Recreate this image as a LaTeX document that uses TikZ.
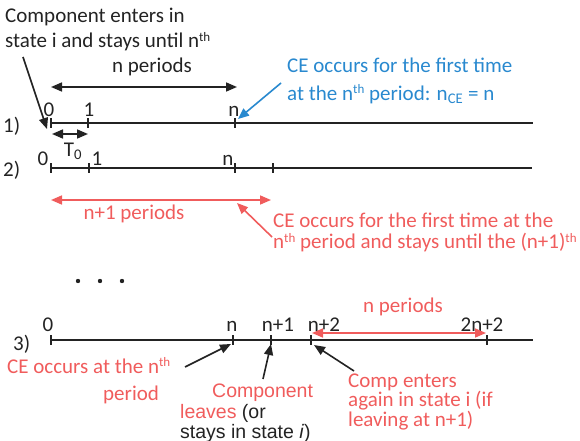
\documentclass[tikz,border=0pt]{standalone}
\usepackage{fontspec}
\setmainfont{Carlito}
\newfontfamily\arialfont{Liberation Sans}
\usetikzlibrary{arrows.meta}
\definecolor{ink}{RGB}{35,35,35}
\definecolor{cred}{RGB}{240,92,92}
\definecolor{cblue}{RGB}{41,137,207}
\newcommand{\myth}{\raisebox{6.5pt}{\fontsize{13}{13}\selectfont th}}
\begin{document}
\begin{tikzpicture}[x=1pt,y=-1pt,
  txt/.style={font=\fontsize{21}{25}\selectfont, inner sep=0pt, text=ink, anchor=base west},
  lbl/.style={font=\fontsize{21}{25}\selectfont, inner sep=0pt, text=ink, anchor=base},
  rtxt/.style={txt, text=cred},
  btxt/.style={txt, text=cblue},
  atxt/.style={txt, font=\arialfont\fontsize{19.5}{21}\selectfont},
  tline/.style={draw=ink, line width=1.8pt},
  tk/.style={draw=ink, line width=1.6pt},
  arr/.style={draw=ink, line width=1.6pt, -{Triangle[length=11pt,width=9pt]}},
  darr/.style={draw=ink, line width=1.6pt, {Triangle[length=11pt,width=9pt]}-{Triangle[length=11pt,width=9pt]}},
  rarr/.style={arr, draw=cred, fill=cred},
  rdarr/.style={darr, draw=cred, fill=cred},
  barr/.style={arr, draw=cblue, fill=cblue}
]
\useasboundingbox (0,0) rectangle (580,441);

% ---------- timeline 1 ----------
\coordinate (s1) at (51,123);
\coordinate (e1) at (533,123);
\coordinate (a0) at (51,123);
\coordinate (a1) at (88,123);
\coordinate (an) at (235,123);
\draw[tline] (s1) -- (e1);
\foreach \c in {a0,a1,an} \draw[tk] ([yshift=5pt]\c) -- ([yshift=-5pt]\c);
\node[txt] (r1) at (3,132) {1)};
\node[lbl] (l10) at (49,117) {0};
\node[lbl] (l11) at (89,117) {1};
\node[lbl] (l1n) at (234,117) {n};

% ---------- timeline 2 ----------
\coordinate (s2) at (51,168);
\coordinate (e2) at (532,168);
\coordinate (b0) at (51,168);
\coordinate (b1) at (89,168);
\coordinate (bn) at (235,168);
\coordinate (bm) at (273,168);
\draw[tline] (s2) -- (e2);
\foreach \c in {b0,b1,bn,bm} \draw[tk] ([yshift=5pt]\c) -- ([yshift=-5pt]\c);
\node[txt] (r2) at (3,176) {2)};
\node[lbl] (l20) at (43,165) {0};
\node[lbl] (l21) at (97,165) {1};
\node[lbl] (l2n) at (228,165) {n};

% ---------- timeline 3 ----------
\coordinate (s3) at (51,340);
\coordinate (e3) at (533,340);
\coordinate (c0) at (51,340);
\coordinate (cn) at (233,340);
\coordinate (cn1) at (271,340);
\coordinate (cn2) at (311,340);
\coordinate (c2n) at (487,340);
\draw[tline] (s3) -- (e3);
\foreach \c in {c0,cn,cn1,cn2,c2n} \draw[tk] ([yshift=5pt]\c) -- ([yshift=-5pt]\c);
\node[txt] (r3) at (13,350) {3)};
\node[lbl] (l30) at (48,331) {0};
\node[lbl] (l3n) at (232,331) {n};
\node[lbl] (l3n1) at (278,331) {n+1};
\node[lbl] (l3n2) at (324,331) {n+2};
\node[lbl] (l32n) at (482,331) {2n+2};

% ---------- top-left text ----------
\node[txt] (ce1) at (5,23) {Component enters in};
\node[txt] (ce2) at (5,48) {state i and stays until n\myth};
\coordinate (ceT) at (23,57);
\coordinate (ceH) at (47,129);
\draw[arr, fill=ink] (ceT) -- (ceH);

% n periods (top)
\coordinate (np1) at (51,87);
\coordinate (np2) at (237,87);
\draw[darr, fill=ink] (np1) -- (np2);
\node[lbl] (npl) at (152,73) {n periods};

% T0
\coordinate (t1) at (52,134);
\coordinate (t2) at (88,134);
\draw[darr, fill=ink] (t1) -- (t2);
\node[lbl] (t0) at (73,156) {T\textsubscript{0}};

% blue text
\node[btxt] (bl1) at (287,73) {CE occurs for the first time};
\node[btxt] (bl2) at (287,100) {at the n\myth{} period: n\textsubscript{CE} = n};
\coordinate (blT) at (281,83);
\coordinate (blH) at (238,119);
\draw[barr] (blT) -- (blH);

% red n+1 periods
\coordinate (rp1) at (51,200);
\coordinate (rp2) at (271,200);
\draw[rdarr] (rp1) -- (rp2);
\node[lbl, text=cred] (rpl) at (134,219) {n+1 periods};

% red text
\node[rtxt] (rd1) at (273,227) {CE occurs for the first time at the};
\node[rtxt] (rd2) at (273,248.5) {n\myth{} period and stays until the (n+1)\myth};
\coordinate (rdT) at (272,237);
\coordinate (rdH) at (237,203);
\draw[rarr] (rdT) -- (rdH);

% dots
\foreach \x [count=\i] in {78,100,122} \fill[ink] (\x,281) circle (2.2pt) coordinate (dot\i);

% red n periods on line 3
\coordinate (q1) at (312,333);
\coordinate (q2) at (486,333);
\draw[rdarr] (q1) -- (q2);
\node[lbl, text=cred] (ql) at (403,312) {n periods};

% CE occurs at nth period
\node[rtxt] (co1) at (7,373) {CE occurs at the n\myth};
\node[rtxt] (co2) at (103,400) {period};
\coordinate (coT) at (185,367);
\coordinate (coH) at (231,344);
\draw[arr, fill=ink] (coT) -- (coH);

% Component leaves
\node[atxt, text=cred] (cl1) at (212,397) {Component};
\node[atxt] (cl2) at (180,418) {\textcolor{cred}{leaves} (or};
\node[atxt] (cl3) at (180,438) {stays in state \textit{i})};
\coordinate (clT) at (263,379);
\coordinate (clH) at (271,344);
\draw[arr, fill=ink] (clT) -- (clH);

% Comp enters again
\node[rtxt] (cg1) at (348,387) {Comp enters};
\node[rtxt] (cg2) at (348,406) {again in state i (if};
\node[rtxt] (cg3) at (348,426) {leaving at n+1)};
\coordinate (cgT) at (354,371);
\coordinate (cgH) at (314,345);
\draw[arr, fill=ink] (cgT) -- (cgH);
\end{tikzpicture}
\end{document}
